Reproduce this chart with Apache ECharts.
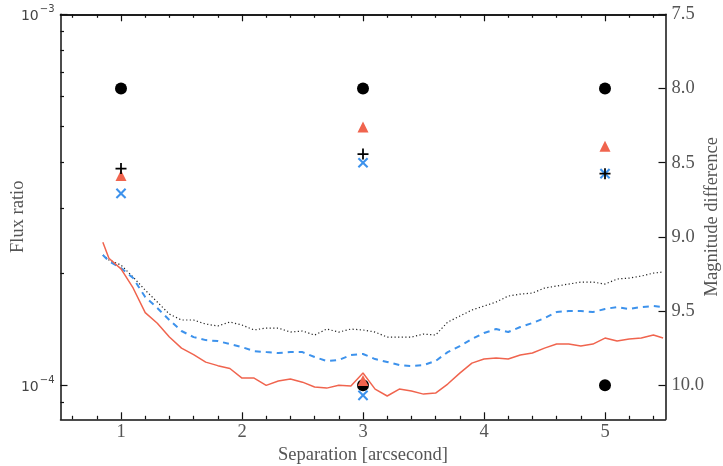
<!DOCTYPE html>
<html>
<head>
<meta charset="utf-8">
<script src="https://cdn.jsdelivr.net/npm/echarts@6/dist/echarts.min.js"></script>
<style>
  html, body { margin: 0; padding: 0; background: #fff; }
  #chart { width: 723px; height: 466px; }
</style>
</head>
<body>
<div id="chart"></div>
<script>
// separation grid of the contrast curves [arcsec]
var sep = [0.85, 0.9, 1.0, 1.1, 1.2, 1.3, 1.4, 1.5, 1.6, 1.7, 1.8, 1.9, 2.0, 2.1, 2.2, 2.3,
  2.4, 2.5, 2.6, 2.7, 2.8, 2.9, 3.0, 3.1, 3.2, 3.3, 3.4, 3.5, 3.6, 3.7, 3.8, 3.9, 4.0, 4.1,
  4.2, 4.3, 4.4, 4.5, 4.6, 4.7, 4.8, 4.9, 5.0, 5.1, 5.2, 5.3, 5.4, 5.48];

// black dotted curve
var curveDotted = [2.245e-4, 2.177e-4, 2.11e-4, 1.958e-4, 1.806e-4, 1.677e-4, 1.556e-4, 1.50e-4,
  1.50e-4, 1.463e-4, 1.445e-4, 1.481e-4, 1.454e-4, 1.41e-4, 1.427e-4, 1.427e-4, 1.392e-4,
  1.401e-4, 1.366e-4, 1.418e-4, 1.392e-4, 1.418e-4, 1.41e-4, 1.392e-4, 1.349e-4, 1.349e-4,
  1.349e-4, 1.375e-4, 1.366e-4, 1.481e-4, 1.537e-4, 1.596e-4, 1.636e-4, 1.677e-4, 1.74e-4,
  1.762e-4, 1.773e-4, 1.829e-4, 1.852e-4, 1.875e-4, 1.898e-4, 1.898e-4, 1.875e-4, 1.934e-4,
  1.946e-4, 1.97e-4, 2.007e-4, 2.02e-4];

// blue dashed curve
var curveDashed = [2.245e-4, 2.163e-4, 2.071e-4, 1.946e-4, 1.73e-4, 1.616e-4, 1.50e-4, 1.401e-4,
  1.349e-4, 1.324e-4, 1.316e-4, 1.292e-4, 1.268e-4, 1.237e-4, 1.229e-4, 1.222e-4, 1.229e-4,
  1.229e-4, 1.192e-4, 1.163e-4, 1.17e-4, 1.207e-4, 1.215e-4, 1.177e-4, 1.156e-4, 1.134e-4,
  1.127e-4, 1.134e-4, 1.163e-4, 1.229e-4, 1.276e-4, 1.333e-4, 1.384e-4, 1.418e-4, 1.392e-4,
  1.436e-4, 1.472e-4, 1.518e-4, 1.576e-4, 1.586e-4, 1.586e-4, 1.576e-4, 1.606e-4, 1.626e-4,
  1.606e-4, 1.626e-4, 1.636e-4, 1.626e-4];

// red solid curve
var curveSolid = [2.43e-4, 2.2e-4, 2.06e-4, 1.83e-4, 1.57e-4, 1.47e-4, 1.35e-4, 1.26e-4,
  1.21e-4, 1.155e-4, 1.13e-4, 1.11e-4, 1.046e-4, 1.046e-4, 1.00e-4, 1.027e-4, 1.04e-4,
  1.02e-4, 0.99e-4, 0.983e-4, 1.00e-4, 0.996e-4, 1.08e-4, 0.977e-4, 0.936e-4, 0.977e-4,
  0.965e-4, 0.947e-4, 0.953e-4, 1.008e-4, 1.079e-4, 1.148e-4, 1.177e-4, 1.185e-4, 1.177e-4,
  1.207e-4, 1.222e-4, 1.26e-4, 1.292e-4, 1.292e-4, 1.276e-4, 1.292e-4, 1.341e-4, 1.316e-4,
  1.333e-4, 1.341e-4, 1.366e-4, 1.341e-4];

// injected companions and recovered values
var circleSep = [1, 3, 5, 3, 5];
var circleFlux = [6.31e-4, 6.31e-4, 6.31e-4, 1.0e-4, 1.0e-4];
var triSep = [1, 3, 5, 3];
var triFlux = [3.68e-4, 4.97e-4, 4.41e-4, 1.03e-4];
var plusSep = [1, 3, 5];
var plusFlux = [3.84e-4, 4.20e-4, 3.72e-4];
var crossSep = [1, 3, 5, 3];
var crossFlux = [3.29e-4, 3.98e-4, 3.72e-4, 0.94e-4];

// tick positions
var sepMajor = [1, 2, 3, 4, 5];
var sepMinor = [0.6, 0.8, 1.2, 1.4, 1.6, 1.8, 2.2, 2.4, 2.6, 2.8, 3.2, 3.4, 3.6, 3.8,
  4.2, 4.4, 4.6, 4.8, 5.2, 5.4];
var fluxMajor = [1e-4, 1e-3];
var fluxMinor = [9e-5, 2e-4, 3e-4, 4e-4, 5e-4, 6e-4, 7e-4, 8e-4, 9e-4];
var magTicks = [7.5, 8.0, 8.5, 9.0, 9.5, 10.0];

var RED = '#f0644e';
var BLUE = '#3d92ec';
var SERIF = 'Liberation Serif';
var FS = 18.5;
var PLUS = 'path://M4.2,0 H5.8 V4.2 H10 V5.8 H5.8 V10 H4.2 V5.8 H0 V4.2 H4.2 Z';

function pairs(xs, ys) {
  return xs.map(function (x, i) { return [x, ys[i]]; });
}

function sepAxis(pos, ticks, len, withLabel) {
  return {
    type: 'value', position: pos, min: 0.5, max: 5.5,
    axisLine: { show: withLabel || pos === 'top', lineStyle: { color: '#111', width: 1.5 } },
    axisTick: { inside: true, length: len, customValues: ticks, lineStyle: { color: '#111', width: 1.2 } },
    axisLabel: withLabel ? { customValues: ticks, fontFamily: SERIF, fontSize: FS, color: '#555', margin: 3 } : { show: false },
    splitLine: { show: false },
    name: withLabel ? 'Separation [arcsecond]' : '',
    nameLocation: 'middle', nameGap: 26, nameMoveOverlap: false,
    nameTextStyle: { fontFamily: SERIF, fontSize: FS, color: '#555' }
  };
}

var myChart = echarts.init(document.getElementById('chart'));
var option = {
  animation: false,
  backgroundColor: '#fff',
  grid: { left: 60.5, right: 57.5, top: 14.3, bottom: 46.7, containLabel: false, outerBoundsMode: 'none' },
  xAxis: [
    sepAxis('bottom', sepMajor, 7, true),
    sepAxis('bottom', sepMinor, 3.5, false),
    sepAxis('top', sepMajor, 7, false),
    sepAxis('top', sepMinor, 3.5, false)
  ],
  yAxis: [
    {
      type: 'log', logBase: 10, min: 8.1e-5, max: 1e-3, position: 'left',
      axisLine: { show: true, lineStyle: { color: '#111', width: 1.5 } },
      axisTick: { inside: true, length: 7, customValues: fluxMajor, lineStyle: { color: '#111', width: 1.2 } },
      axisLabel: {
        customValues: fluxMajor, margin: 6,
        formatter: function (v) {
          return '{b|10}{s|\u2212' + Math.round(-Math.log10(v)) + '}';
        },
        rich: {
          b: { fontFamily: 'DejaVu Sans', fontSize: 14, color: '#444', verticalAlign: 'bottom' },
          s: { fontFamily: 'DejaVu Sans', fontSize: 10, color: '#444', verticalAlign: 'bottom', padding: [0, 0, 9, 1] }
        }
      },
      splitLine: { show: false },
      name: 'Flux ratio', nameLocation: 'middle', nameGap: 33, nameRotate: 90, nameMoveOverlap: false,
      nameTextStyle: { fontFamily: SERIF, fontSize: FS, color: '#555' }
    },
    {
      type: 'log', logBase: 10, min: 8.1e-5, max: 1e-3, position: 'left',
      axisLine: { show: false },
      axisTick: { inside: true, length: 3.5, customValues: fluxMinor, lineStyle: { color: '#111', width: 1.2 } },
      axisLabel: { show: false },
      splitLine: { show: false }
    },
    {
      type: 'value', inverse: true, min: 7.5, max: 10.229, position: 'right',
      axisLine: { show: true, lineStyle: { color: '#111', width: 1.5 } },
      axisTick: { inside: true, length: 7, customValues: magTicks, lineStyle: { color: '#111', width: 1.2 } },
      axisLabel: {
        customValues: magTicks, fontFamily: SERIF, fontSize: FS, color: '#555', margin: 6,
        formatter: function (v) { return v.toFixed(1); }
      },
      splitLine: { show: false },
      name: 'Magnitude difference', nameLocation: 'middle', nameGap: 37, nameRotate: 90, nameMoveOverlap: false,
      nameTextStyle: { fontFamily: SERIF, fontSize: FS, color: '#555' }
    }
  ],
  series: [
    {
      type: 'line', data: pairs(sep, curveDotted), showSymbol: false,
      lineStyle: { color: '#222', width: 1.2, type: [1.2, 2.4] }
    },
    {
      type: 'line', data: pairs(sep, curveDashed), showSymbol: false,
      lineStyle: { color: BLUE, width: 2, type: [6, 5] }
    },
    {
      type: 'line', data: pairs(sep, curveSolid), showSymbol: false,
      lineStyle: { color: RED, width: 1.5 }
    },
    {
      type: 'scatter', data: pairs(circleSep, circleFlux), symbol: 'circle', symbolSize: 12,
      itemStyle: { color: '#000', opacity: 1 }, z: 3
    },
    {
      type: 'scatter', data: pairs(triSep, triFlux), symbol: 'triangle', symbolSize: 11,
      itemStyle: { color: RED, opacity: 1 }, z: 4
    },
    {
      type: 'scatter', data: pairs(crossSep, crossFlux), symbol: PLUS, symbolSize: 13, symbolRotate: 45,
      itemStyle: { color: BLUE, opacity: 1 }, z: 5
    },
    {
      type: 'scatter', data: pairs(plusSep, plusFlux), symbol: PLUS, symbolSize: 11,
      itemStyle: { color: '#000', opacity: 1 }, z: 6
    }
  ]
};
myChart.setOption(option);
</script>
</body>
</html>
